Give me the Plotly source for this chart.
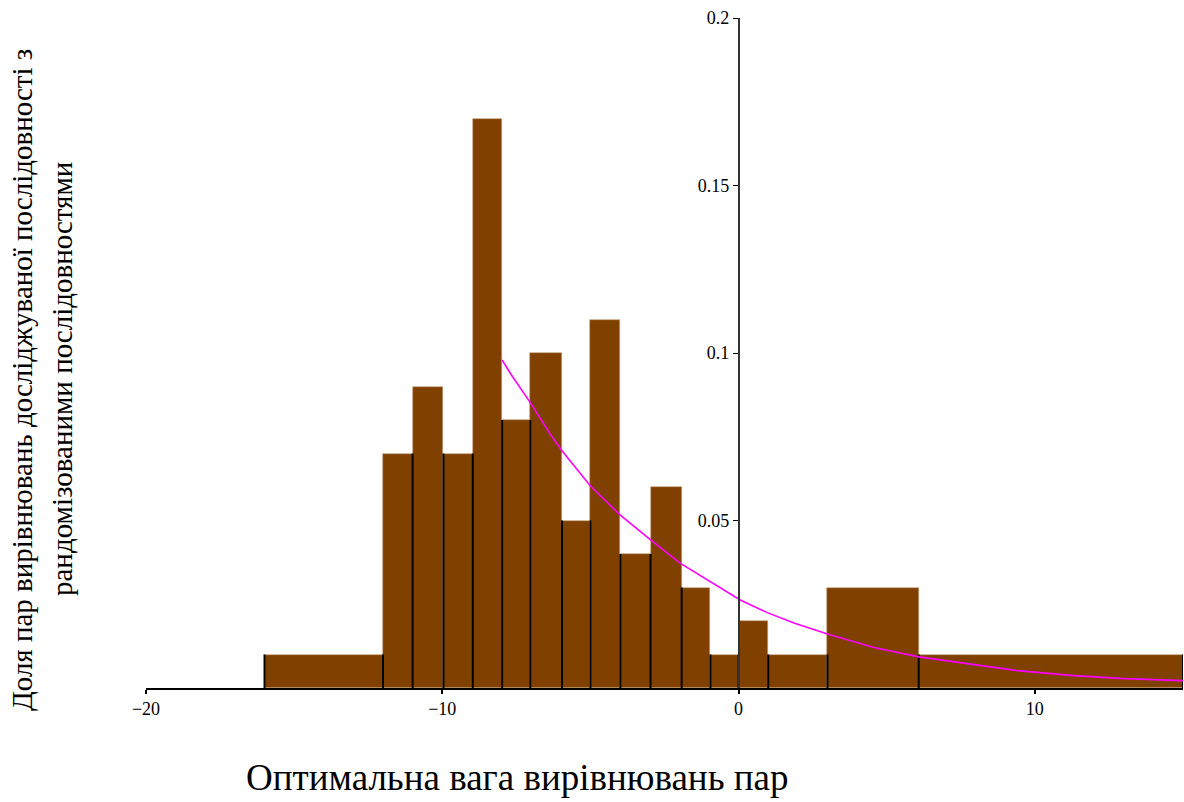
import plotly.graph_objects as go

# Histogram bin edges and heights (fraction of pairs)
bin_edges = [-16.0, -12.0, -11.0, -9.96, -8.97, -7.98, -7.03, -5.96, -5.0,
             -3.99, -2.97, -1.92, -0.95, 0.0, 1.0, 3.0, 6.08, 15.0]
bin_heights = [0.01, 0.07, 0.09, 0.07, 0.17, 0.08, 0.10, 0.05, 0.11,
               0.04, 0.06, 0.03, 0.01, 0.02, 0.01, 0.03, 0.01]

# Fitted curve
curve_x = [-7.98, -7.70, -7.03, -6.35, -5.96, -5.0, -3.99, -2.97, -1.96, -0.95,
           0.07, 0.97, 1.87, 3.0, 4.57, 6.09, 7.95, 9.41, 11.33, 13.02, 15.0]
curve_y = [0.0979, 0.0939, 0.0852, 0.0757, 0.0708, 0.0603, 0.0516, 0.0442, 0.0372, 0.0317,
           0.0262, 0.0225, 0.0194, 0.0161, 0.0121, 0.0093, 0.0069, 0.0052, 0.0037, 0.0028, 0.0022]

x_ticks = [-20, -10, 0, 10]
y_ticks = [0.05, 0.1, 0.15, 0.2]
y_tick_text = ["0.05", "0.1", "0.15", "0.2"]
x_title = "Оптимальна вага вирівнювань пар"
y_title_1 = "Доля пар вирівнювань досліджуваної послідовності з"
y_title_2 = "рандомізованими послідовностями"

W, H = 1184, 802
L, R, T, B = 146, 1, 18, 114
X_RANGE = [-20, 15.0]
Y_RANGE = [0, 0.2]

centers = [(a + b) / 2 for a, b in zip(bin_edges[:-1], bin_edges[1:])]
widths = [b - a for a, b in zip(bin_edges[:-1], bin_edges[1:])]

# vertical black edge segments: height = min of adjacent bars
seg_x, seg_y = [], []
n = len(bin_heights)
for i, e in enumerate(bin_edges):
    hs = []
    if i - 1 >= 0:
        hs.append(bin_heights[i - 1])
    if i < n:
        hs.append(bin_heights[i])
    seg_x += [e, e, None]
    seg_y += [0, min(hs), None]

serif = "Liberation Serif, Times New Roman, serif"

fig = go.Figure()
fig.add_trace(go.Bar(x=centers, y=bin_heights, width=widths,
                     marker=dict(color="rgb(128,64,0)", line=dict(width=0.6, color="rgb(200,160,120)")),
                     hoverinfo="skip"))
fig.add_trace(go.Scatter(x=seg_x, y=seg_y, mode="lines",
                         line=dict(color="black", width=2), hoverinfo="skip"))
fig.add_trace(go.Scatter(x=curve_x, y=curve_y, mode="lines",
                         line=dict(color="#ff00ff", width=1.6), hoverinfo="skip"))

ypos = (0 - X_RANGE[0]) / (X_RANGE[1] - X_RANGE[0])
pw = W - L - R
ph = H - T - B

fig.update_layout(
    width=W, height=H,
    margin=dict(l=L, r=R, t=T, b=B, pad=0),
    paper_bgcolor="white", plot_bgcolor="white",
    showlegend=False, bargap=0,
    font=dict(family=serif, color="black"),
    xaxis=dict(range=X_RANGE, tickvals=x_ticks, showgrid=False, zeroline=False,
               showline=True, linecolor="black", linewidth=1.5,
               ticks="outside", ticklen=4, tickwidth=1.5, tickcolor="black",
               tickfont=dict(family=serif, size=18), fixedrange=True),
    yaxis=dict(range=Y_RANGE, tickvals=y_ticks, ticktext=y_tick_text,
               showgrid=False, zeroline=False,
               anchor="free", position=ypos,
               showline=True, linecolor="#333333", linewidth=1.5,
               ticks="outside", ticklen=5, tickwidth=1, tickcolor="black",
               tickfont=dict(family=serif, size=18), fixedrange=True),
    annotations=[
        dict(text=x_title, xref="paper", yref="paper",
             x=(517 - L) / pw, y=-(800 - (H - B)) / ph,
             xanchor="center", yanchor="bottom", showarrow=False,
             font=dict(family=serif, size=37, color="black")),
        dict(text=y_title_1, xref="paper", yref="paper",
             x=(22 - L) / pw, y=((H - B) - 380) / ph,
             xanchor="center", yanchor="middle", showarrow=False, textangle=-90,
             font=dict(family=serif, size=29, color="black")),
        dict(text=y_title_2, xref="paper", yref="paper",
             x=(62 - L) / pw, y=((H - B) - 379) / ph,
             xanchor="center", yanchor="middle", showarrow=False, textangle=-90,
             font=dict(family=serif, size=29, color="black")),
    ],
)

fig.write_html("out.html")
